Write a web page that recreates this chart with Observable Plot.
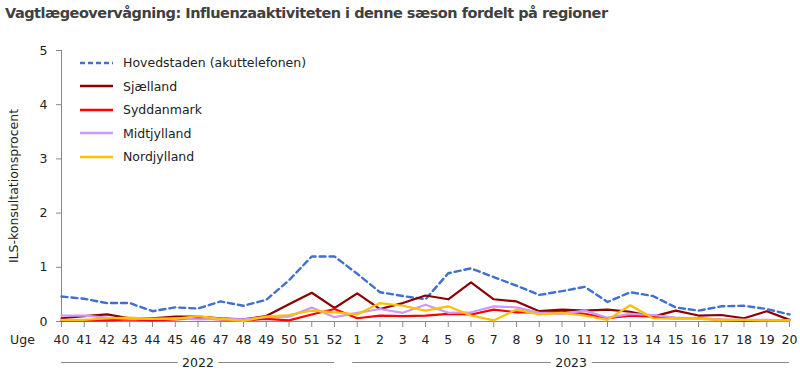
<!DOCTYPE html>
<html><head><meta charset="utf-8">
<script src="https://cdn.jsdelivr.net/npm/d3@7"></script>
<script src="https://cdn.jsdelivr.net/npm/@observablehq/plot@0.6"></script>
<style>
body{margin:0;background:#fff;font-family:"DejaVu Sans",sans-serif;}
#wrap{position:relative;width:800px;height:375px;overflow:hidden;}
#title{height:30px;box-sizing:border-box;padding:5px 0 0 5px;font-weight:bold;font-size:14.5px;color:#404040;white-space:nowrap;letter-spacing:-0.5px;}
#legend{position:absolute;left:80px;top:51px;font-size:12.5px;color:#222;}
.row{height:23.5px;display:flex;align-items:center;}
.row svg{margin-right:10px;}
</style></head>
<body>
<div id="wrap">
<div id="title">Vagtlægeovervågning: Influenzaaktiviteten i denne sæson fordelt på regioner</div>
<div id="chart"></div>
<div id="legend"></div>
</div>
<script>
const weeks = ["40","41","42","43","44","45","46","47","48","49","50","51","52",
  "1","2","3","4","5","6","7","8","9","10","11","12","13","14","15","16","17","18","19","20"];
const seriesNames = ["Hovedstaden (akuttelefonen)","Sjælland","Syddanmark","Midtjylland","Nordjylland"];
const seriesColors = ["#3F6FD0","#8B0000","#FF0000","#CC99FF","#FFC000"];
const hovedstaden = [0.46,0.42,0.34,0.34,0.19,0.26,0.24,0.37,0.29,0.40,0.76,1.20,1.20,
  0.88,0.54,0.47,0.41,0.89,0.98,0.82,0.66,0.49,0.56,0.64,0.36,0.54,0.47,0.26,0.20,0.28,0.29,0.23,0.13];
const sjaelland = [0.06,0.10,0.13,0.06,0.06,0.09,0.09,0.06,0.04,0.10,0.32,0.53,0.25,
  0.52,0.23,0.34,0.48,0.41,0.72,0.41,0.37,0.19,0.22,0.20,0.22,0.18,0.09,0.20,0.11,0.12,0.06,0.19,0.03];
const syddanmark = [0.02,0.02,0.02,0.04,0.02,0.04,0.06,0.04,0.02,0.05,0.02,0.13,0.23,
  0.06,0.11,0.10,0.11,0.14,0.13,0.22,0.17,0.17,0.18,0.14,0.06,0.11,0.09,0.06,0.06,0.03,0.01,0.02,0.02];
const midtjylland = [0.11,0.11,0.07,0.05,0.05,0.06,0.04,0.05,0.04,0.08,0.09,0.26,0.08,
  0.16,0.23,0.16,0.31,0.16,0.17,0.28,0.26,0.16,0.14,0.20,0.07,0.14,0.12,0.07,0.06,0.04,0.03,0.03,0.02];
const nordjylland = [0.03,0.03,0.06,0.07,0.05,0.05,0.10,0.05,0.01,0.09,0.12,0.20,0.17,
  0.13,0.34,0.29,0.20,0.28,0.11,0.02,0.22,0.13,0.16,0.11,0.03,0.30,0.06,0.05,0.05,0.03,0.03,0.02,0.02];
const yTicks = [0,1,2,3,4,5];
const yearLabels = ["2022","2023"];

const allSeries = [hovedstaden, sjaelland, syddanmark, midtjylland, nordjylland];
const rows = [];
allSeries.forEach((vals, s) => vals.forEach((v, i) => rows.push({i, v, s: seriesNames[s]})));

// year of each index: weeks >= 40 belong to the first year
const yearIdx = weeks.map(w => (+w >= 40 ? 0 : 1));
const years = yearLabels.map((label, k) => {
  const idx = d3.range(weeks.length).filter(i => yearIdx[i] === k);
  const start = d3.min(idx) - (k > 0 ? 0.2 : 0), end = d3.max(idx);
  return {label, start, end, mid: (start + end) / 2};
});

const font = "DejaVu Sans, sans-serif";
const chart = Plot.plot({
  width: 800, height: 345,
  marginLeft: 61, marginRight: 11, marginTop: 20, marginBottom: 54,
  style: {fontFamily: font, fontSize: "12.5px", color: "#222", background: "white"},
  x: {domain: [0, weeks.length - 1], axis: null},
  y: {domain: [0, 5], axis: null},
  color: {domain: seriesNames, range: seriesColors},
  marks: [
    Plot.axisY({ticks: yTicks, tickFormat: d3.format("d"), tickSize: 5, tickPadding: 9, stroke: "#888", fill: "#222",
      label: "ILS-konsultationsprocent", labelAnchor: "center", labelArrow: "none", labelOffset: 52}),
    Plot.axisX({ticks: d3.range(weeks.length), tickFormat: i => weeks[i], tickSize: 6, tickPadding: 8,
      stroke: "#888", fill: "#222", label: null}),
    Plot.ruleX([0], {stroke: "#888"}),
    Plot.ruleY([0], {stroke: "#888"}),
    Plot.lineY(rows.filter(d => d.s === seriesNames[0]), {x: "i", y: "v", stroke: seriesColors[0], strokeWidth: 2.4, strokeDasharray: "6,4"}),
    ...[1,2,3,4].map(k => Plot.lineY(rows.filter(d => d.s === seriesNames[k]), {x: "i", y: "v", stroke: seriesColors[k], strokeWidth: 2.2})),
    Plot.text(["Uge"], {frameAnchor: "bottom-left", text: d => d, dx: -39, dy: 18, textAnchor: "middle", lineAnchor: "middle", fill: "#222"}),
    Plot.ruleY(years, {y: () => 0, x1: "start", x2: "end", dy: 41, stroke: "#888"}),
    Plot.text(years, {x: "mid", y: () => 0, text: "label", dy: 41, fill: "#222", stroke: "white", strokeWidth: 12, paintOrder: "stroke", lineAnchor: "middle"})
  ]
});
document.getElementById("chart").appendChild(chart);

const legend = document.getElementById("legend");
seriesNames.forEach((name, k) => {
  const row = document.createElement("div");
  row.className = "row";
  const dash = k === 0 ? ' stroke-dasharray="5,3"' : '';
  row.innerHTML = `<svg width="33" height="6"><line x1="0" x2="33" y1="3" y2="3" stroke="${seriesColors[k]}" stroke-width="2.5"${dash}/></svg><span>${name}</span>`;
  legend.appendChild(row);
});
</script>
</body></html>
